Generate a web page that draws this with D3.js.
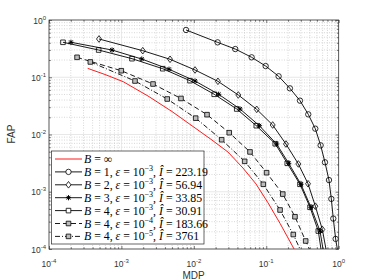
<!DOCTYPE html>
<html>
<head>
<meta charset="utf-8">
<script src="https://cdn.jsdelivr.net/npm/d3@7"></script>
<style>
  body { margin: 0; background: #fff; }
  svg { display: block; }
</style>
</head>
<body>
<div id="chart"></div>
<script>
// Values (MDP on x, FAP on y)
var mdpInf = [3.42e-4, 5.93e-4, 1.06e-3, 2.33e-3, 4.99e-3, 1.04e-2, 1.78e-2, 2.96e-2, 4.76e-2, 7.21e-2, 0.1057, 0.155, 0.242];
var fapInf = [0.143, 0.1117, 0.0836, 0.047, 0.0252, 0.013, 0.008, 0.00494, 0.0026, 0.00137, 6.4e-4, 2.8e-4, 1e-4];

var mdpB1 = [7.8e-3, 0.0213, 0.0373, 0.0628, 0.098, 0.148, 0.212, 0.292, 0.38, 0.475, 0.563, 0.646, 0.734, 0.791, 0.842, 0.907, 0.957];
var fapB1 = [0.67, 0.407, 0.311, 0.223, 0.157, 0.104, 0.064, 0.039, 0.0225, 0.01264, 0.00647, 0.00327, 0.0016, 7.5e-4, 3.4e-4, 1.5e-4, 1e-4];

var mdpB2 = [4.9e-4, 1.97e-3, 4.69e-3, 0.01038, 0.0215, 0.0411, 0.0738, 0.1225, 0.187, 0.277, 0.377, 0.476, 0.594, 0.667];
var fapB2 = [0.466, 0.291, 0.206, 0.134, 0.0849, 0.049, 0.0275, 0.01466, 0.00682, 0.00306, 0.00138, 5.6e-4, 2.2e-4, 1e-4];

var mdpB3 = [2.01e-4, 7.42e-4, 1.91e-3, 4.54e-3, 0.01038, 0.022, 0.0434, 0.0802, 0.139, 0.204, 0.301, 0.414, 0.552, 0.607];
var fapB3 = [0.408, 0.299, 0.208, 0.138, 0.086, 0.0504, 0.0279, 0.01424, 0.00682, 0.00314, 0.00135, 5.35e-4, 2.06e-4, 1e-4];

var mdpB4 = [1.56e-4, 4.85e-4, 1.4e-3, 3.72e-3, 8.85e-3, 0.0191, 0.0391, 0.0728, 0.133, 0.195, 0.292, 0.402, 0.523, 0.569];
var fapB4 = [0.408, 0.299, 0.211, 0.141, 0.0871, 0.0504, 0.0279, 0.01424, 0.0069, 0.00314, 0.00135, 5.35e-4, 2.06e-4, 1e-4];

var mdpE4 = [2.44e-4, 9.95e-4, 2.73e-3, 6.64e-3, 0.0152, 0.0308, 0.0596, 0.101, 0.169, 0.249, 0.35, 0.393];
var fapE4 = [0.223, 0.13, 0.0762, 0.0426, 0.0222, 0.01075, 0.00496, 0.00215, 9.1e-4, 3.66e-4, 1.38e-4, 1e-4];

var mdpE5 = [3.72e-4, 1.54e-3, 4.29e-3, 0.0106, 0.0242, 0.0503, 0.091, 0.155, 0.236, 0.292];
var fapE5 = [0.185, 0.086, 0.0417, 0.0193, 0.0081, 0.0034, 0.00135, 4.8e-4, 1.79e-4, 1e-4];

// Legend text pieces
var legendB = ["\u221E", "1", "2", "3", "4", "4", "4"];
var legendEps = [null, "\u22123", "\u22123", "\u22123", "\u22123", "\u22124", "\u22125"];
var legendI = [null, "223.19", "56.94", "33.85", "30.91", "183.66", "3761"];

// Tick values
var tickVals = [1e-4, 1e-3, 1e-2, 1e-1, 1];
var tickExp = ["-4", "-3", "-2", "-1", "0"];

var width = 374, height = 280;
var plotL = 49, plotR = 338.7, plotT = 20, plotB = 249;
var axisColor = "#262626";

var svg = d3.select("#chart").append("svg")
    .attr("width", width)
    .attr("height", height);

var x = d3.scaleLog().domain([1e-4, 1]).range([plotL, plotR]);
var y = d3.scaleLog().domain([1e-4, 1]).range([plotB, plotT]);

// minor values 2..9 in each decade
var minor = [];
for (var e = -4; e < 0; e++) {
    for (var k = 2; k <= 9; k++) minor.push(k * Math.pow(10, e));
}

// grid
var grid = svg.append("g");
grid.selectAll(".mx").data(minor).enter().append("line")
    .attr("x1", d => x(d)).attr("x2", d => x(d))
    .attr("y1", plotT).attr("y2", plotB)
    .attr("stroke", "#bdbdbd").attr("stroke-width", 0.6)
    .attr("stroke-dasharray", "1,1.5");
grid.selectAll(".my").data(minor).enter().append("line")
    .attr("y1", d => y(d)).attr("y2", d => y(d))
    .attr("x1", plotL).attr("x2", plotR)
    .attr("stroke", "#bdbdbd").attr("stroke-width", 0.6)
    .attr("stroke-dasharray", "1,1.5");
grid.selectAll(".Mx").data(tickVals).enter().append("line")
    .attr("x1", d => x(d)).attr("x2", d => x(d))
    .attr("y1", plotT).attr("y2", plotB)
    .attr("stroke", "#dedede").attr("stroke-width", 0.7);
grid.selectAll(".My").data(tickVals).enter().append("line")
    .attr("y1", d => y(d)).attr("y2", d => y(d))
    .attr("x1", plotL).attr("x2", plotR)
    .attr("stroke", "#dedede").attr("stroke-width", 0.7);

// axes with inward ticks on all four sides
function drawAxis(axis, transform, vals, size) {
    var g = svg.append("g").attr("transform", transform)
        .call(axis.tickValues(vals).tickSize(size).tickFormat(""));
    g.select(".domain").remove();
    g.selectAll("line").attr("stroke", axisColor).attr("stroke-width", 0.6);
}
drawAxis(d3.axisBottom(x), "translate(0," + plotB + ")", tickVals, -3);
drawAxis(d3.axisBottom(x), "translate(0," + plotB + ")", minor, -1.8);
drawAxis(d3.axisTop(x), "translate(0," + plotT + ")", tickVals, -3);
drawAxis(d3.axisTop(x), "translate(0," + plotT + ")", minor, -1.8);
drawAxis(d3.axisLeft(y), "translate(" + plotL + ",0)", tickVals, -3);
drawAxis(d3.axisLeft(y), "translate(" + plotL + ",0)", minor, -1.8);
drawAxis(d3.axisRight(y), "translate(" + plotR + ",0)", tickVals, -3);
drawAxis(d3.axisRight(y), "translate(" + plotR + ",0)", minor, -1.8);

svg.append("rect")
    .attr("x", plotL).attr("y", plotT)
    .attr("width", plotR - plotL).attr("height", plotB - plotT)
    .attr("fill", "none").attr("stroke", axisColor).attr("stroke-width", 0.7);

// tick labels
var labFont = "'Liberation Sans', Arial, sans-serif";
svg.selectAll(".xl").data(tickVals).enter().append("text")
    .attr("x", d => x(d)).attr("y", 266.5)
    .attr("text-anchor", "middle")
    .attr("font-family", labFont).attr("font-size", 8.5).attr("fill", "#333")
    .each(function(d, i) {
        var t = d3.select(this);
        t.append("tspan").text("10");
        t.append("tspan").attr("dy", -4).attr("font-size", 6).text(tickExp[i]);
    });
svg.selectAll(".yl").data(tickVals).enter().append("text")
    .attr("x", 46).attr("y", d => y(d) + 3.5)
    .attr("text-anchor", "end")
    .attr("font-family", labFont).attr("font-size", 8.5).attr("fill", "#333")
    .each(function(d, i) {
        var t = d3.select(this);
        t.append("tspan").text("10");
        t.append("tspan").attr("dy", -4).attr("font-size", 6).text(tickExp[i]);
    });

svg.append("text").attr("x", 193.5).attr("y", 279)
    .attr("text-anchor", "middle")
    .attr("font-family", labFont).attr("font-size", 10).attr("fill", "#333")
    .text("MDP");
svg.append("text")
    .attr("transform", "translate(14.5,134) rotate(-90)")
    .attr("text-anchor", "middle")
    .attr("font-family", labFont).attr("font-size", 10).attr("fill", "#333")
    .text("FAP");

// curves
svg.append("clipPath").attr("id", "clip").append("rect")
    .attr("x", plotL).attr("y", plotT)
    .attr("width", plotR - plotL).attr("height", plotB - plotT);

var markerPaths = {
    circle: "M2.7,0A2.7,2.7 0 1,1 -2.7,0A2.7,2.7 0 1,1 2.7,0Z",
    diamond: "M0,-3.3L2.5,0L0,3.3L-2.5,0Z",
    square: "M-2.3,-2.3H2.3V2.3H-2.3Z",
    star: "M-2.6,0H2.6M0,-2.6V2.6M-1.9,-1.9L1.9,1.9M-1.9,1.9L1.9,-1.9"
};

var series = [
    {mdp: mdpInf, fap: fapInf, color: "#ff0000", dash: null, marker: null},
    {mdp: mdpB1, fap: fapB1, color: "#000", dash: null, marker: "circle"},
    {mdp: mdpB2, fap: fapB2, color: "#000", dash: null, marker: "diamond"},
    {mdp: mdpB3, fap: fapB3, color: "#000", dash: null, marker: "star"},
    {mdp: mdpB4, fap: fapB4, color: "#000", dash: null, marker: "square"},
    {mdp: mdpE4, fap: fapE4, color: "#000", dash: "5,3", marker: "square", fill: "#bcbcbc"},
    {mdp: mdpE5, fap: fapE5, color: "#000", dash: "5,2,1,2", marker: "square", fill: "#bcbcbc"}
];

var line = d3.line().x(d => x(d[0])).y(d => y(d[1]));
var plot = svg.append("g").attr("clip-path", "url(#clip)");

series.forEach(function(s) {
    var pts = s.mdp.map((m, i) => [m, s.fap[i]]);
    plot.append("path").datum(pts)
        .attr("d", line)
        .attr("fill", "none")
        .attr("stroke", s.color)
        .attr("stroke-width", 0.9)
        .attr("stroke-dasharray", s.dash);
    if (s.marker) {
        // the last point is where the curve leaves the axes, no marker there
        plot.selectAll(null).data(pts.slice(0, -1)).enter().append("path")
            .attr("transform", d => "translate(" + x(d[0]) + "," + y(d[1]) + ")")
            .attr("d", markerPaths[s.marker])
            .attr("fill", s.marker === "star" ? "none" : (s.fill || "none"))
            .attr("stroke", "#000")
            .attr("stroke-width", s.marker === "star" ? 1 : 0.8);
    }
});

// legend
var lg = svg.append("g");
lg.append("rect")
    .attr("x", 51.5).attr("y", 151)
    .attr("width", 152.5).attr("height", 93)
    .attr("fill", "#fff").attr("stroke", axisColor).attr("stroke-width", 0.7);

var serif = "'Liberation Serif', 'Times New Roman', serif";
series.forEach(function(s, i) {
    var cy = 159 + i * 12.9;
    lg.append("line")
        .attr("x1", 55).attr("x2", 82).attr("y1", cy).attr("y2", cy)
        .attr("stroke", s.color).attr("stroke-width", 0.9)
        .attr("stroke-dasharray", s.dash);
    if (s.marker) {
        lg.append("path")
            .attr("transform", "translate(68.5," + cy + ")")
            .attr("d", markerPaths[s.marker])
            .attr("fill", s.marker === "star" ? "none" : (s.fill || "#fff"))
            .attr("stroke", "#000")
            .attr("stroke-width", s.marker === "star" ? 1 : 0.8);
    }
    var t = lg.append("text")
        .attr("x", 84).attr("y", cy + 4)
        .attr("font-family", serif).attr("font-size", 11.8).attr("fill", "#000");
    t.append("tspan").attr("font-style", "italic").text("B");
    t.append("tspan").text(" = " + legendB[i]);
    if (legendEps[i]) {
        t.append("tspan").text(", ");
        t.append("tspan").attr("font-style", "italic").text("\u03B5");
        t.append("tspan").text(" = 10");
        t.append("tspan").attr("dy", -4.5).attr("font-size", 8).text(legendEps[i]);
        t.append("tspan").attr("dy", 4.5).text(", ");
        t.append("tspan").attr("font-style", "italic").text("\u00CE");
        t.append("tspan").text(" = " + legendI[i]);
    }
});
</script>
</body>
</html>
